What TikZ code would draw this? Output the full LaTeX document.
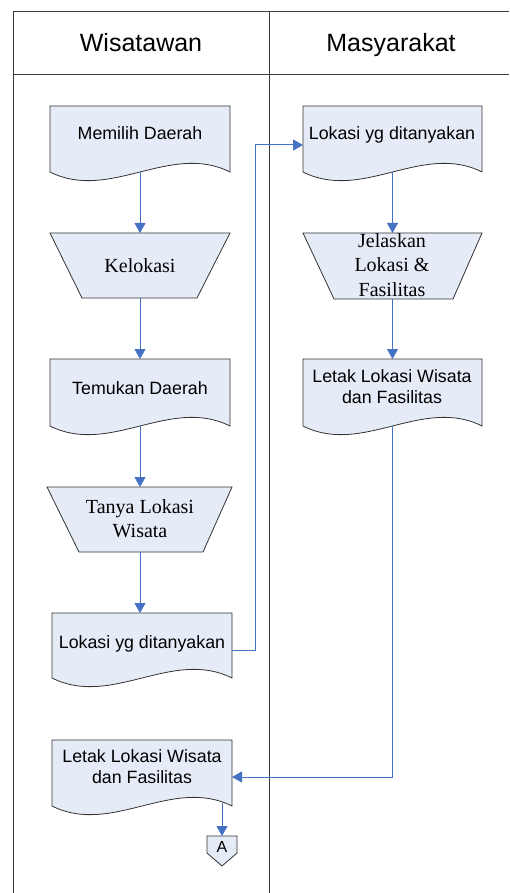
\documentclass[tikz,border=0pt]{standalone}
\usepackage{fontspec}
\newfontfamily\ars{Liberation Sans}
\newfontfamily\tnr{Liberation Serif}
\usetikzlibrary{arrows.meta,calc}
\definecolor{boxfill}{RGB}{230,236,247}
\definecolor{flowblue}{RGB}{70,114,196}
\definecolor{lanegray}{RGB}{60,60,60}
\tikzset{
  lane/.style={draw=lanegray, line width=0.9pt},
  shp/.style={draw=black!80, fill=boxfill, line width=0.8pt},
  flow/.style={draw=flowblue, line width=1pt, -{Triangle[width=11pt,length=10pt]}},
  doctxt/.style={font=\ars\fontsize{17.8}{20.5}\selectfont, align=center, inner sep=0pt},
  trtxt/.style={font=\tnr\fontsize{20}{24.5}\selectfont, align=center, inner sep=0pt},
  head/.style={font=\ars\fontsize{25}{30}\selectfont, inner sep=0pt, anchor=base},
  area/.style={draw=none, inner sep=0pt, outer sep=0pt}
}
% name, x1, y1, x2, y2 (side bottom)
\newcommand\docbox[5]{%
  \path[shp] (#2,#3) -- (#4,#3) -- (#4,#5)
    .. controls ({#4-(#4-#2)/3},{#5-30}) and ({#2+(#4-#2)/3},{#5+30}) .. (#2,#5) -- cycle;
  \node[area, minimum width={#4-#2}, minimum height={#5-#3}] (#1) at ({(#2+#4)/2},{(#3+#5)/2}) {};
}
% name, top x1, top x2, y1, bottom x1, bottom x2, y2
\newcommand\trapbox[7]{%
  \path[shp] (#2,#4) -- (#3,#4) -- (#6,#7) -- (#5,#7) -- cycle;
  \node[area, minimum width={#3-#2}, minimum height={#7-#4}] (#1) at ({(#2+#3)/2},{(#4+#7)/2}) {};
}
\begin{document}
\begin{tikzpicture}[x=1pt,y=-1pt]
\useasboundingbox (0,0) rectangle (509,893);
% swimlanes
\draw[lane] (509,11) -- (13,11) -- (13,893);
\draw[lane] (13,74) -- (509,74);
\draw[lane] (269,11) -- (269,893);
\node[head] (hw) at (141,52) {Wisatawan};
\node[head] (hm) at (391,52) {Masyarakat};

% left lane
\docbox{m1}{50}{106}{230}{172}
\node[doctxt, anchor=base] (m1t) at (140,140) {Memilih Daerah};
\trapbox{k1}{50}{230}{233}{82}{197}{298}
\node[trtxt, anchor=base] (k1t) at (140,272) {Kelokasi};
\docbox{t1}{50}{359}{230}{426}
\node[doctxt, anchor=base] (t1t) at (140,394) {Temukan Daerah};
\trapbox{q1}{47}{232}{487}{79}{203}{552}
\node[trtxt] (q1t) at (140,518.5) {Tanya Lokasi\\Wisata};
\docbox{l1}{52}{613}{232}{678}
\node[doctxt, anchor=base] (l1t) at (142,648) {Lokasi yg ditanyakan};
\docbox{l2}{52}{740}{232}{806}
\node[doctxt] (l2t) at (142,766.5) {Letak Lokasi Wisata\\dan Fasilitas};
\path[shp] (207,836) -- (237,836) -- (237,853) -- (222,866) -- (207,853) -- cycle;
\node[area, minimum width=30, minimum height=30] (A) at (222,851) {};
\node[font=\ars\fontsize{16}{19}\selectfont, inner sep=0pt, anchor=base] (At) at (222,852) {A};

% right lane
\docbox{r1}{303}{106}{482}{172}
\node[doctxt, anchor=base] (r1t) at (392,140) {Lokasi yg ditanyakan};
\trapbox{j1}{303}{482}{233}{334}{453}{299}
\node[trtxt] (j1t) at (392,265) {Jelaskan\\Lokasi \&\\Fasilitas};
\docbox{r2}{303}{359}{482}{426}
\node[doctxt] (r2t) at (392,386.5) {Letak Lokasi Wisata\\dan Fasilitas};

% connectors
\coordinate (cx) at (255,0);
\coordinate (cA) at (222,803);
\draw[flow] (m1.south) -- (m1.south |- k1.north);
\draw[flow] (k1.south -| m1.south) -- (t1.north);
\draw[flow] (t1.south) -- (t1.south |- q1.north);
\draw[flow] (q1.south -| t1.south) -- (t1.south |- l1.north);
\draw[flow] ($(l1.east)+(0,5)$) -| ($(cx |- r1.west)+(0,6)$) -- ($(r1.west)+(0,6)$);
\draw[flow] (r1.south) -- (j1.north -| r1.south);
\draw[flow] (j1.south -| r2.north) -- (r2.north);
\draw[flow] (r2.south) |- ($(l2.east)+(0,4)$);
\draw[flow] (cA) -- (A.north);
\end{tikzpicture}
\end{document}
